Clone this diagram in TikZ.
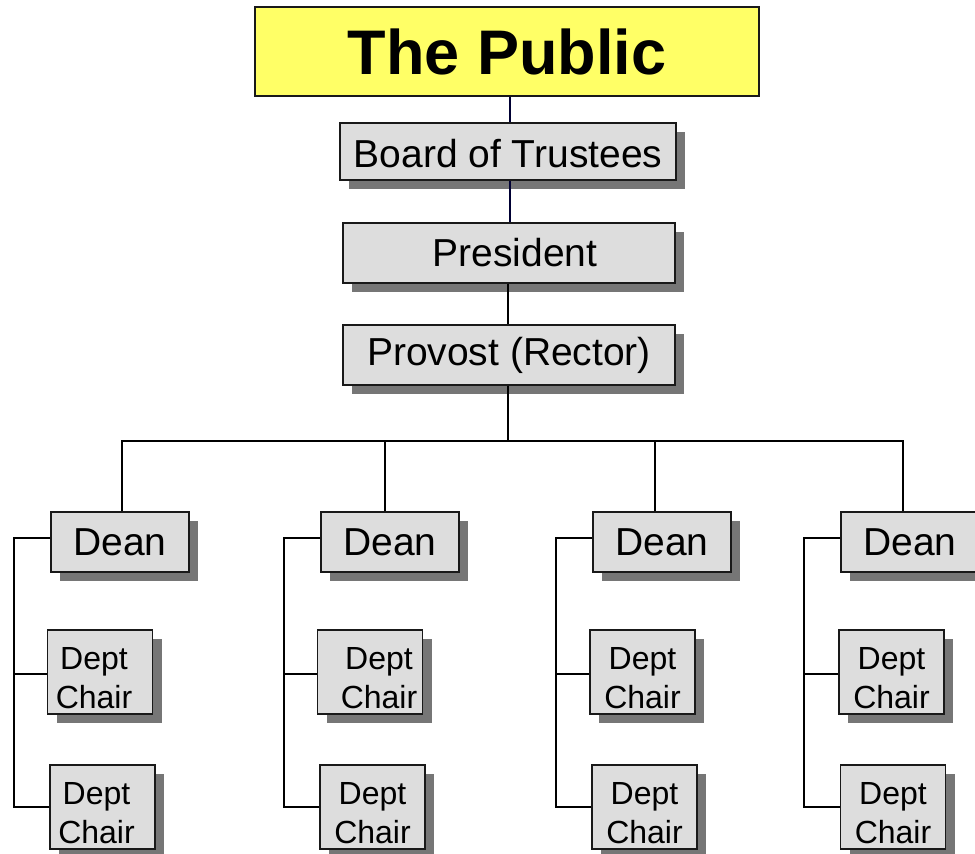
\documentclass[tikz,border=0pt]{standalone}
\usepackage{fontspec}
\setmainfont{Liberation Sans}
\usetikzlibrary{shadows}
\definecolor{pubyellow}{RGB}{255,255,102}
\definecolor{boxgray}{RGB}{221,221,221}
\definecolor{shadowgray}{RGB}{118,118,118}
\definecolor{navyline}{RGB}{0,0,51}
\newcommand{\dc}[1][0pt]{\rule{0pt}{34pt}\hspace*{#1}Dept\\\hspace*{#1}Chair}
\tikzset{
  box/.style={draw=black!90, line width=1.4pt, fill=boxgray, inner sep=0pt,
    drop shadow={shadow xshift=9pt, shadow yshift=-9pt, fill=shadowgray, opacity=1, draw=none}},
  bigbox/.style={box, font=\fontsize{39}{44}\selectfont, minimum height=60pt},
  chairbox/.style={box, font=\fontsize{32}{39}\selectfont, align=center, minimum width=105pt, minimum height=84pt},
  conn/.style={line width=1.5pt, black},
}
\begin{document}
\begin{tikzpicture}[x=1pt,y=-1pt]
\useasboundingbox (0,0) rectangle (975,854);
\fill[white] (0,0) rectangle (975,854);
% nodes
\node[draw=black!90, line width=1.4pt, fill=pubyellow, minimum width=504pt, minimum height=89pt, inner sep=0pt,
  font=\fontsize{63}{70}\selectfont\bfseries] (pub) at (507,51.5) {The Public};
\node[bigbox, minimum width=336pt, minimum height=57pt] (board) at (508,151.5) {\rule{0pt}{32pt}Board of Trustees};
\node[bigbox, minimum width=332pt] (pres) at (509,253) {\hspace{12pt}President};
\node[bigbox, minimum width=332pt] (prov) at (509,355) {Provost (Rector)};
\node[bigbox, minimum width=138pt] (dean1) at (120,542) {Dean};
\node[bigbox, minimum width=138pt] (dean2) at (390,542) {Dean};
\node[bigbox, minimum width=138pt] (dean3) at (662,542) {Dean};
\node[bigbox, minimum width=138pt] (dean4) at (910,542) {Dean};
\node[chairbox] (c11) at (100,672) {\dc[-12pt]};
\node[chairbox] (c12) at (102.5,807) {\dc[-12pt]};
\node[chairbox] (c21) at (370,672) {\dc[18pt]};
\node[chairbox] (c22) at (372.5,807) {\dc};
\node[chairbox] (c31) at (642.5,672) {\dc};
\node[chairbox] (c32) at (644.5,807) {\dc};
\node[chairbox] (c41) at (891.5,672) {\dc};
\node[chairbox] (c42) at (893,807) {\dc};
% helper coordinates
\coordinate (bus) at (0,441);
\coordinate (k1) at (14,0);
\coordinate (k2) at (284,0);
\coordinate (k3) at (556,0);
\coordinate (k4) at (804,0);
% top chain
\draw[line width=1.5pt, navyline] ([xshift=3pt]pub.south) -- ([xshift=2pt]board.north);
\draw[line width=1.5pt, navyline] ([xshift=2pt]board.south) -- ([xshift=1pt]pres.north);
\draw[conn] ([xshift=-1pt]pres.south) -- ([xshift=-1pt]prov.north);
% provost to deans
\draw[conn] ([xshift=-1pt]prov.south) -- ([xshift=-1pt]prov.south |- bus);
\draw[conn] ([xshift=2pt]dean1.north) -- ([xshift=2pt]dean1.north |- bus) -- ([xshift=-7pt]dean4.north |- bus) -- ([xshift=-7pt]dean4.north);
\draw[conn] ([xshift=-5pt]dean2.north) -- ([xshift=-5pt]dean2.north |- bus);
\draw[conn] ([xshift=-7pt]dean3.north) -- ([xshift=-7pt]dean3.north |- bus);
% brackets
\foreach \i in {1,2,3,4}{
  \draw[conn] ([yshift=4pt]dean\i.west) -- ([yshift=4pt]dean\i.west -| k\i) |- (c\i2.west);
  \draw[conn] ([yshift=-2pt]c\i1.west) -- ([yshift=-2pt]c\i1.west -| k\i);
}
\end{tikzpicture}
\end{document}
